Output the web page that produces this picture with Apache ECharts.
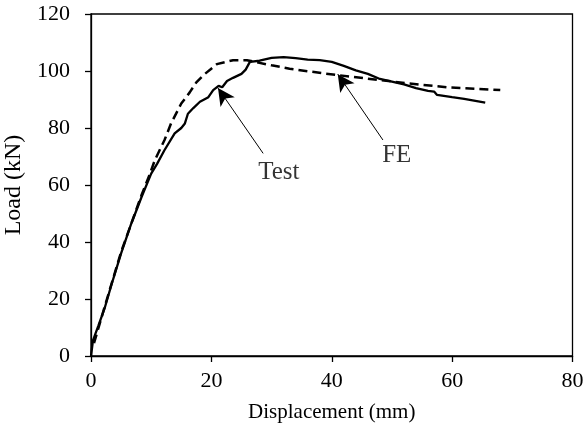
<!DOCTYPE html>
<html>
<head>
<meta charset="utf-8">
<script src="https://cdn.jsdelivr.net/npm/echarts@6/dist/echarts.min.js"></script>
<style>html,body{margin:0;padding:0;background:#fff}#c{width:587px;height:432px}</style>
</head>
<body>
<div id="c"></div>
<script>
// Test curve: [displacement (mm), load (kN)]
var testData = [[0,0],[0.33,5.5],[1.2,10.5],[2.3,17],[3.4,25],[5,36],[6.7,46.5],[8.4,55.8],[10,64],[11,67.5],[12.2,72.2],[13.9,78.1],[15,80],[15.6,81.6],[16.1,85],[17,87],[18.1,89.2],[19.5,90.8],[20.3,93.3],[21.2,94.8],[21.8,94.3],[22.6,96.5],[23.6,97.6],[25,99],[25.7,100.5],[26.4,103.2],[28,103.6],[30,104.6],[32,104.9],[34,104.5],[36,104],[38,103.8],[40,103.2],[42,101.8],[44,100.2],[46,99],[48,97.2],[50,96.3],[52,95.3],[54,94],[56,93],[57,92.8],[57.5,91.6],[60,90.8],[62,90.2],[65.5,88.9]];
// FE curve
var feData = [[0.5,4.5],[2.3,17.5],[5,36.5],[8.4,56.5],[9.7,63.4],[10.6,68.7],[12.2,75.7],[13.3,81.6],[15,88.6],[16.4,92.5],[17.5,96],[18.7,98.6],[20.9,102.4],[23.6,103.8],[25.9,103.8],[27.2,103.2],[30,102],[33,100.8],[38.5,99.2],[45.2,97.5],[52.5,95.7],[59.1,94.3],[68,93.3]];
// Annotations (data units): label position, arrow tail, arrow tip
var annLabels = ['Test','FE'];
var annTextPos = [[31.2,64.5],[50.8,70.5]];
var annTail = [[28.6,71.1],[48.5,75.8]];
var annTip = [[21.1,94.0],[41.0,98.9]];
var xTicks = [0,20,40,60,80];
var yTicks = [0,20,40,60,80,100,120];

var FONT = 'Liberation Serif';
var chart = echarts.init(document.getElementById('c'));
var arrowLines = annTail.map(function(t,i){
  return [{coord:t, symbol:'none'},{coord:annTip[i], symbol:'arrow', symbolSize:[13,17]}];
});
chart.setOption({
  animation:false,
  backgroundColor:'#fff',
  grid:{left:91,right:14.5,top:14,bottom:76,containLabel:false,outerBoundsMode:'none',show:true,borderColor:'#000',borderWidth:1.3,backgroundColor:'transparent'},
  xAxis:{type:'value',min:xTicks[0],max:xTicks[xTicks.length-1],interval:20,
    name:'Displacement (mm)',nameLocation:'middle',nameGap:46,
    nameTextStyle:{fontFamily:FONT,fontSize:21,color:'#000'},
    axisLine:{lineStyle:{color:'#000',width:1.3}},
    axisTick:{show:true,length:6,inside:false,lineStyle:{color:'#000',width:1.3}},
    axisLabel:{fontFamily:FONT,fontSize:22,color:'#000',margin:14},
    splitLine:{show:false}},
  yAxis:{type:'value',min:yTicks[0],max:yTicks[yTicks.length-1],interval:20,
    name:'Load (kN)',nameLocation:'middle',nameGap:61,
    nameTextStyle:{fontFamily:FONT,fontSize:24,color:'#000'},
    axisLine:{lineStyle:{color:'#000',width:1.3}},
    axisTick:{show:true,length:6,inside:false,lineStyle:{color:'#000',width:1.3}},
    axisLabel:{fontFamily:FONT,fontSize:22,color:'#000',margin:21},
    splitLine:{show:false}},
  series:[
    {name:'Test',type:'line',data:testData,showSymbol:false,symbol:'none',
     lineStyle:{color:'#000',width:2.3,type:'solid'},z:3},
    {name:'FE',type:'line',data:feData,showSymbol:false,symbol:'none',
     lineStyle:{color:'#000',width:2.5,type:[9,5]},z:2},
    {name:'ann',type:'scatter',symbolSize:0,silent:true,
     data:annTextPos.map(function(p,i){return {value:p,name:annLabels[i]};}),
     label:{show:true,position:'inside',formatter:'{b}',fontFamily:FONT,fontSize:25,color:'#000'},
     markLine:{silent:true,animation:false,label:{show:false},
       lineStyle:{color:'#000',width:1,type:'solid'},
       data:arrowLines}}
  ]
});
</script>
</body>
</html>
